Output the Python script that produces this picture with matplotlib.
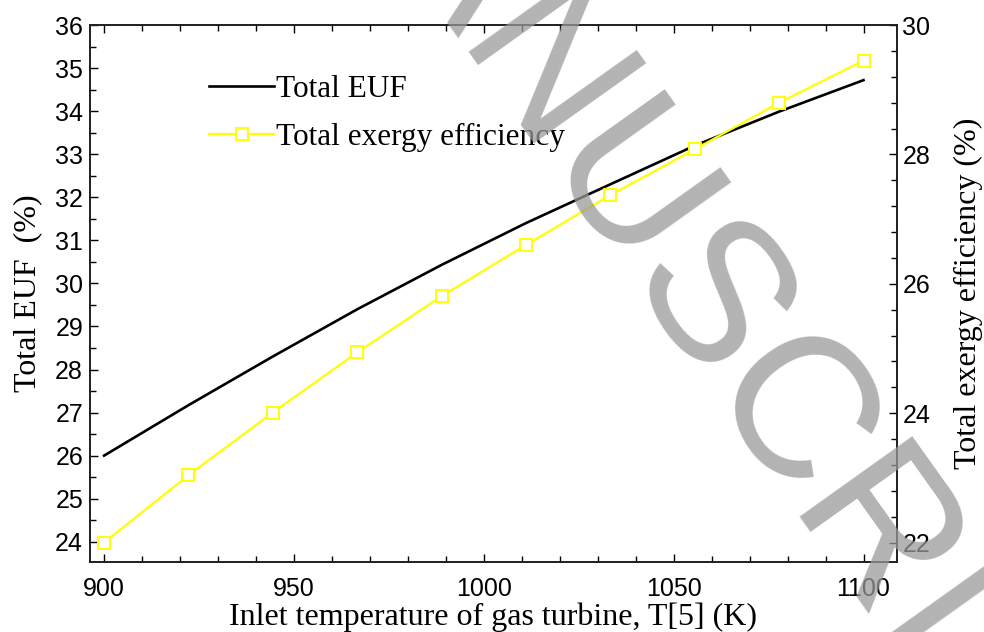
import numpy as np
import matplotlib.pyplot as plt
from matplotlib.ticker import MultipleLocator

# dados
T5 = [900, 922.2, 944.4, 966.7, 988.9, 1011.1, 1033.3, 1055.6, 1077.8, 1100]
euf = [26.0, 27.17, 28.3, 29.4, 30.43, 31.4, 32.3, 33.2, 33.99, 34.72]
exergy = [22.0, 23.04, 24.01, 24.94, 25.81, 26.60, 27.37, 28.08, 28.80, 29.45]

serif = ['Liberation Serif', 'DejaVu Serif']
sans = ['Liberation Sans', 'DejaVu Sans']

fig = plt.figure(figsize=(9.84, 6.32), dpi=100)
ax = fig.add_axes([0.0915, 0.1108, 0.82, 0.8496])
ax2 = ax.twinx()

l1, = ax.plot(T5, euf, color='black', lw=1.9, label='Total EUF')
l2, = ax2.plot(T5, exergy, color='#ffff00', lw=1.6, marker='s', ms=9,
               mfc='white', mec='#ffff00', mew=1.4, label='Total exergy efficiency')

ax.set_xlim(896.3, 1108.8)
ax.set_ylim(23.53, 36)
ax2.set_ylim(21.7, 30)

ax.xaxis.set_major_locator(MultipleLocator(50))
ax.xaxis.set_minor_locator(MultipleLocator(10))
ax.yaxis.set_major_locator(MultipleLocator(1))
ax.yaxis.set_minor_locator(MultipleLocator(0.5))
ax2.yaxis.set_major_locator(MultipleLocator(2))
ax2.yaxis.set_minor_locator(MultipleLocator(0.4))

ax.tick_params(which='both', direction='in', top=True, right=False, labelsize=18, pad=5)
ax.tick_params(axis='x', which='both', pad=11)
ax.tick_params(which='major', length=6, width=1)
ax.tick_params(which='minor', length=4, width=1)
ax2.tick_params(which='both', direction='in', labelsize=18, pad=4)
ax2.tick_params(which='major', length=6, width=1)
ax2.tick_params(which='minor', length=4, width=1)
for a in (ax, ax2):
    for lab in a.get_xticklabels() + a.get_yticklabels():
        lab.set_family(sans)
    for s in a.spines.values():
        s.set_linewidth(1.3)
        s.set_color('#222222')

ax.set_xlabel('Inlet temperature of gas turbine, T[5] (K)', family=serif, fontsize=23)
ax.set_ylabel('Total EUF  (%)', family=serif, fontsize=23)
ax2.set_ylabel('Total exergy efficiency (%)', family=serif, fontsize=23)
ax.xaxis.set_label_coords(0.5, -0.076)
ax.yaxis.set_label_coords(-0.0595, 0.5)
ax2.yaxis.set_label_coords(1.071, 0.5)

leg = ax.legend(handles=[l1, l2], loc='upper left', bbox_to_anchor=(0.1124, 0.96),
                frameon=False, prop={'family': serif, 'size': 22.5},
                handlelength=2.1, handletextpad=0.06, labelspacing=0.62)

# marca d'água
fig.text(0.7165, 0.497, 'MANUSCRIPT', family=sans, fontsize=145, color='#9a9a9a',
         alpha=0.75, rotation=-54.5, ha='center', va='center', zorder=10)

fig.savefig('out.png', dpi=100)
